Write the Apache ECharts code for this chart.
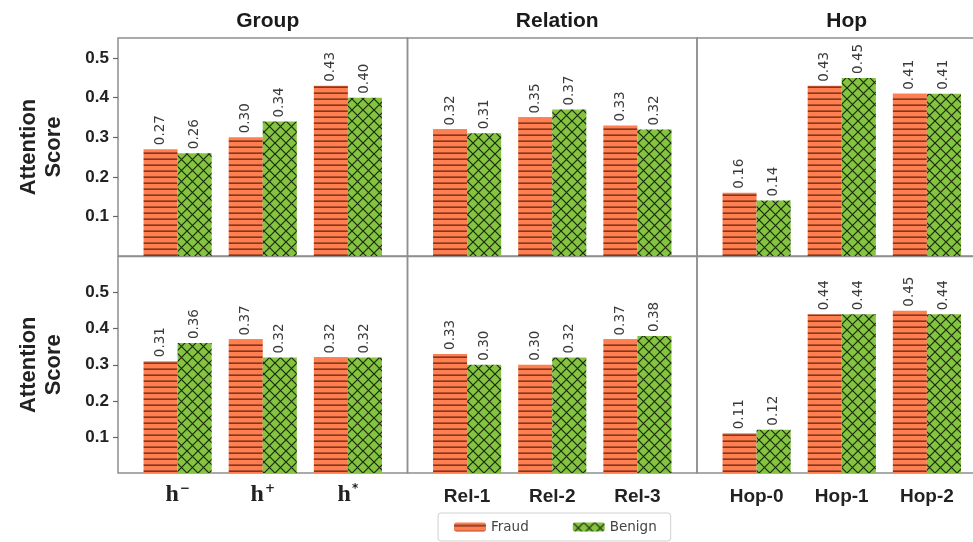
<!DOCTYPE html>
<html>
<head>
<meta charset="utf-8">
<script src="https://cdn.jsdelivr.net/npm/echarts@6/dist/echarts.min.js"></script>
<style>
html,body{margin:0;padding:0;background:#fff;}
#chart{width:973px;height:542px;}
</style>
</head>
<body>
<div id="chart"></div>
<script>
// ---- data ----
const colTitles = ['Group', 'Relation', 'Hop'];
const groupCats = ['h−', 'h+', 'h*'];
const relationCats = ['Rel-1', 'Rel-2', 'Rel-3'];
const hopCats = ['Hop-0', 'Hop-1', 'Hop-2'];
const seriesNames = ['Fraud', 'Benign'];
const yTicks = [0.1, 0.2, 0.3, 0.4, 0.5];

// top row
const groupFraudTop = [0.27, 0.30, 0.43];
const groupBenignTop = [0.26, 0.34, 0.40];
const relFraudTop = [0.32, 0.35, 0.33];
const relBenignTop = [0.31, 0.37, 0.32];
const hopFraudTop = [0.16, 0.43, 0.41];
const hopBenignTop = [0.14, 0.45, 0.41];
// bottom row
const groupFraudBot = [0.31, 0.37, 0.32];
const groupBenignBot = [0.36, 0.32, 0.32];
const relFraudBot = [0.33, 0.30, 0.37];
const relBenignBot = [0.30, 0.32, 0.38];
const hopFraudBot = [0.11, 0.44, 0.45];
const hopBenignBot = [0.12, 0.44, 0.44];

const rowMax = [0.551, 0.6];

// ---- patterns ----
function fraudPattern() {
  const c = document.createElement('canvas');
  c.width = 8; c.height = 6;
  const g = c.getContext('2d');
  g.fillStyle = '#FF7F50';
  g.fillRect(0, 0, 8, 6);
  g.fillStyle = 'rgba(70,25,10,0.85)';
  g.fillRect(0, 2.5, 8, 1.3);
  return { image: c, repeat: 'repeat' };
}
function benignPattern() {
  const s = 11;
  const c = document.createElement('canvas');
  c.width = s; c.height = s;
  const g = c.getContext('2d');
  g.fillStyle = '#84C441';
  g.fillRect(0, 0, s, s);
  g.strokeStyle = 'rgba(15,25,5,0.9)';
  g.lineWidth = 1.2;
  g.beginPath();
  g.moveTo(-1, -1); g.lineTo(s + 1, s + 1);
  g.moveTo(-1, s + 1); g.lineTo(s + 1, -1);
  g.stroke();
  return { image: c, repeat: 'repeat' };
}
const fraudColor = fraudPattern();
const benignColor = benignPattern();

const catsByCol = [groupCats, relationCats, hopCats];
const dataByPanel = [
  [[groupFraudTop, groupBenignTop], [relFraudTop, relBenignTop], [hopFraudTop, hopBenignTop]],
  [[groupFraudBot, groupBenignBot], [relFraudBot, relBenignBot], [hopFraudBot, hopBenignBot]]
];

// ---- layout ----
const panelLeft = [118, 407.5, 697];
const panelW = 289.5;
const rowTop = [38, 256.5];
const rowH = [218, 216.5];
const inset = panelW * 0.2 / 3.4;
const dataW = panelW * 3 / 3.4;

const grids = [], xAxes = [], yAxes = [], series = [], titles = [];
for (let r = 0; r < 2; r++) {
  for (let c = 0; c < 3; c++) {
    const pIdx = grids.length;
    // panel frame grid
    grids.push({
      left: panelLeft[c], top: rowTop[r], width: panelW, height: rowH[r],
      show: true, borderColor: '#8f8f8f', borderWidth: 1.5, backgroundColor: 'transparent',
      containLabel: false, outerBoundsMode: 'none'
    });
    xAxes.push({ gridIndex: pIdx, type: 'value', min: 0, max: 1, show: false });
    yAxes.push({
      gridIndex: pIdx, type: 'value', min: 0, max: rowMax[r], interval: 0.1,
      show: c === 0,
      axisLine: { show: false },
      axisTick: { show: true, length: 5, lineStyle: { color: '#666', width: 1.2 } },
      splitLine: { show: false },
      axisLabel: {
        showMinLabel: false, showMaxLabel: false,
        fontFamily: 'Liberation Sans', fontWeight: 'bold', fontSize: 17, color: '#222', margin: 9,
        formatter: v => yTicks.some(t => Math.abs(t - v) < 1e-6) ? v.toFixed(1) : ''
      },
      name: c === 0 ? 'Attention\nScore' : '',
      nameLocation: 'middle', nameRotate: 90, nameGap: 52,
      nameTextStyle: { fontFamily: 'Liberation Sans', fontWeight: 'bold', fontSize: 22, color: '#222', lineHeight: 25 }
    });
    // data grid
    const dIdx = grids.length;
    grids.push({ left: panelLeft[c] + inset, top: rowTop[r], width: dataW, height: rowH[r], containLabel: false, outerBoundsMode: 'none' });
    const isGroup = c === 0;
    xAxes.push({
      gridIndex: dIdx, type: 'category', data: catsByCol[c],
      axisLine: { show: false }, axisTick: { show: false },
      axisLabel: {
        show: r === 1, interval: 0, hideOverlap: false, margin: isGroup ? 10 : 14,
        fontFamily: 'Liberation Sans', fontWeight: 'bold', fontSize: 19, color: '#222',
        formatter: isGroup ? (v => '{b|' + v.charAt(0) + '}{s|' + v.slice(1) + '}') : (v => v),
        rich: {
          b: { fontFamily: 'Liberation Serif', fontWeight: 'bold', fontSize: 24, color: '#222' },
          s: { fontFamily: 'DejaVu Sans', fontSize: 12, color: '#222', verticalAlign: 'top', padding: [0, 0, 12, 1] }
        }
      }
    });
    yAxes.push({ gridIndex: dIdx, type: 'value', min: 0, max: rowMax[r], show: false });
    const vals = dataByPanel[r][c];
    [0, 1].forEach(k => {
      series.push({
        type: 'bar', name: seriesNames[k], xAxisIndex: dIdx, yAxisIndex: dIdx,
        data: vals[k], barWidth: '40%', barGap: '0%',
        itemStyle: { color: k === 0 ? fraudColor : benignColor },
        label: {
          show: true, position: 'top', rotate: 90, align: 'left', verticalAlign: 'middle',
          distance: 4, fontFamily: 'DejaVu Sans', fontSize: 13.5, color: '#3a3a3a',
          formatter: p => p.value.toFixed(2)
        }
      });
    });
  }
}
for (let c = 0; c < 3; c++) {
  titles.push({
    text: colTitles[c], left: panelLeft[c] + panelW / 2, top: 6, textAlign: 'center',
    textStyle: { fontFamily: 'Liberation Sans', fontWeight: 'bold', fontSize: 21, color: '#1a1a1a' }
  });
}

const chart = echarts.init(document.getElementById('chart'));
chart.setOption({
  animation: false,
  backgroundColor: '#fff',
  title: titles,
  legend: {
    data: seriesNames, left: 438, top: 513,
    borderColor: '#d0d0d0', borderWidth: 1, borderRadius: 3, padding: [7, 14, 7, 16],
    itemWidth: 32, itemHeight: 9, itemGap: 44,
    textStyle: { fontFamily: 'DejaVu Sans', fontSize: 13.5, color: '#444' }
  },
  grid: grids,
  xAxis: xAxes,
  yAxis: yAxes,
  series: series
});
</script>
</body>
</html>
